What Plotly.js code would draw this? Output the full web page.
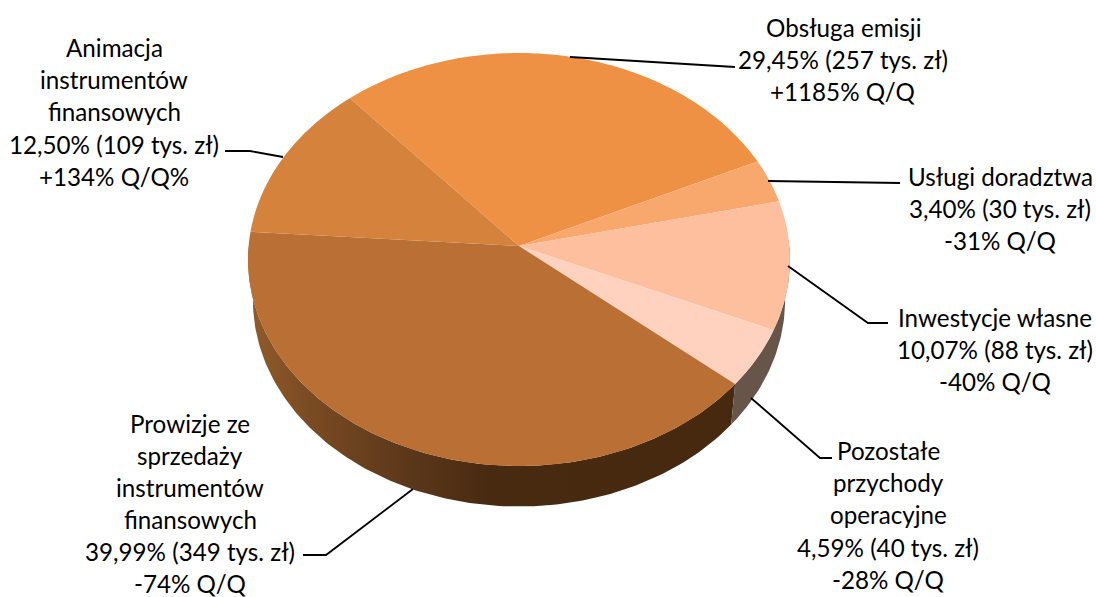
<!DOCTYPE html>
<html lang="pl">
<head>
<meta charset="utf-8">
<script src="https://cdn.plot.ly/plotly-3.0.1.min.js"></script>
<style>html,body{margin:0;padding:0;background:#fff}#chart{width:1096px;height:597px}</style>
</head>
<body>
<div id="chart"></div>
<script>
// Data
const categories = ["Obsługa emisji", "Usługi doradztwa", "Inwestycje własne", "Pozostałe przychody operacyjne", "Prowizje ze sprzedaży instrumentów finansowych", "Animacja instrumentów finansowych"];
const shares = [29.45, 3.40, 10.07, 4.59, 39.99, 12.50];
const amounts = [257, 30, 88, 40, 349, 109];
const changes = ["+1185% Q/Q", "-31% Q/Q", "-40% Q/Q", "-28% Q/Q", "-74% Q/Q", "+134% Q/Q%"];
const sliceColors = ["#EE9144", "#F8A86C", "#FDBF9D", "#FFD2BF", "#BA7034", "#D4823C"];

const nameLines = [["Obsługa emisji"], ["Usługi doradztwa"], ["Inwestycje własne"], ["Pozostałe", "przychody", "operacyjne"], ["Prowizje ze", "sprzedaży", "instrumentów", "finansowych"], ["Animacja", "instrumentów", "finansowych"]];
const labelCenterX = [843, 1000, 995, 888, 190, 114];
const labelFirstY = [27, 176, 317, 450, 423, 47];
const labelStep = [32.2, 32.4, 32.4, 32.4, 32, 32.4];

// Layout of the drawing, in pixels of the 1096x597 page
const W = 1096, H = 597;
const CX = 519, APEX_Y = 246, RX = 270.4, PERSPECTIVE = 0.0654, RY = 189.5;
const DEPTH = 40.5, BOTTOM_SCALE = 0.982;
const ROTATION = -41;

const leaders = [
  [[570, 57], [735, 67]],
  [[768, 181], [900, 183]],
  [[788, 266], [868, 323], [888, 323]],
  [[751, 398], [820, 458], [832, 458]],
  [[413, 489], [326, 555], [303, 555]],
  [[225, 151], [250, 151], [283, 157]]
];

function pct(v) { return v.toFixed(2).replace(".", ",") + "%"; }

// A point of the disc's rim, seen in perspective; deg is clockwise from the top
function rim(deg) {
  const t = deg * Math.PI / 180, u = Math.sin(t), v = Math.cos(t);
  const d = 1 + PERSPECTIVE * v;
  return [CX + RX * u / d, (APEX_Y - RY * v) / d];
}
function rimArc(a0, a1) {
  const n = Math.max(2, Math.ceil(Math.abs(a1 - a0)));
  const out = [];
  for (let i = 0; i <= n; i++) out.push(rim(a0 + (a1 - a0) * i / n));
  return out;
}

const total = shares.reduce((a, b) => a + b, 0);
const edges = [ROTATION];
shares.forEach(s => edges.push(edges[edges.length - 1] + 360 * s / total));

// The side wall of the disc: the rim pushed down by its depth
function wallOutline(a0, a1) {
  const top = rimArc(a0, a1);
  const low = top.map(p => [CX + (p[0] - CX) * BOTTOM_SCALE, p[1] + DEPTH]);
  const pts = low.concat(top.slice().reverse());
  return {x: pts.map(p => p[0]), y: pts.map(p => p[1])};
}
const splitAngle = edges[4];
const darkOutline = wallOutline(splitAngle, 270);
const greyOutline = wallOutline(90, splitAngle);

const darkWall = {
  type: "scatter", mode: "lines", x: darkOutline.x, y: darkOutline.y, fill: "toself",
  line: {width: 0}, hoverinfo: "skip", showlegend: false,
  fillgradient: {type: "horizontal", colorscale: [[0, "#935C2B"], [0.1, "#7E4E24"], [0.3, "#5F3A1B"], [0.5, "#482A11"], [1, "#472910"]]}
};
const greyWall = {
  type: "scatter", mode: "lines", x: greyOutline.x, y: greyOutline.y, fill: "toself",
  line: {width: 0}, hoverinfo: "skip", showlegend: false,
  fillcolor: "#67554A"
};

const pie = {
  type: "pie", labels: categories, values: shares, sort: false, direction: "clockwise",
  rotation: ROTATION, textinfo: "none", hole: 0, showlegend: false,
  marker: {colors: sliceColors, line: {width: 0}},
  domain: {x: [(CX - RX) / W, (CX + RX) / W], y: [0, 1]}
};

const font = {family: "Lato, 'Open Sans', sans-serif", size: 24.2, color: "#000000"};
const annotations = [];
categories.forEach((c, i) => {
  const lines = nameLines[i].concat([pct(shares[i]) + " (" + amounts[i] + " tys. zł)", changes[i]]);
  lines.forEach((text, j) => {
    annotations.push({
      x: labelCenterX[i], y: labelFirstY[i] + j * labelStep[i], xref: "x", yref: "y",
      text: text, showarrow: false, xanchor: "center", yanchor: "middle", font: font
    });
  });
});

const shapes = leaders.map(pts => ({
  type: "path", xref: "x", yref: "y", layer: "above",
  path: pts.map((p, i) => (i ? "L" : "M") + p[0] + "," + p[1]).join(" "),
  line: {color: "#000000", width: 1.8}
}));

const layout = {
  width: W, height: H, margin: {l: 0, r: 0, t: 0, b: 0},
  paper_bgcolor: "#ffffff", plot_bgcolor: "#ffffff", showlegend: false,
  xaxis: {range: [0, W], visible: false, fixedrange: true},
  yaxis: {range: [H, 0], visible: false, fixedrange: true},
  annotations: annotations, shapes: shapes
};

Plotly.newPlot("chart", [darkWall, greyWall, pie], layout, {displayModeBar: false, staticPlot: true}).then(gd => {
  // The library draws flat circles; the reference is a disc seen in perspective,
  // so each slice the pie trace made is re-laid along the tilted rim.
  gd.querySelectorAll(".pielayer .slice path.surface").forEach((el, i) => {
    const pts = rimArc(edges[i], edges[i + 1]);
    el.setAttribute("d", "M" + CX + "," + APEX_Y + pts.map(p => "L" + p[0].toFixed(2) + "," + p[1].toFixed(2)).join("") + "Z");
  });
});
</script>
</body>
</html>
